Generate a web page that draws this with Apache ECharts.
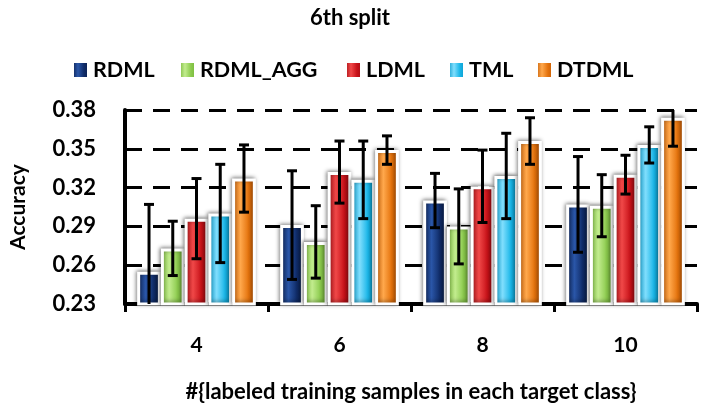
<!DOCTYPE html>
<html>
	<head>
		<meta charset="utf-8">
		<title></title>
		<style>
			body{margin:0;}
			#main{
				width: 704px;
				height: 409px;
			}
		</style>
	</head>
	<body>
		<div id="main"></div>
		<script src="https://cdn.jsdelivr.net/npm/echarts@6/dist/echarts.min.js"></script>
		<script>
			// 数据：横轴类别、各方法的均值与误差（半宽）
			var categories=['4','6','8','10']
			var methods=['RDML','RDML_AGG','LDML','TML','DTDML']
			var rdml=[0.255,0.291,0.310,0.307]
			var rdmlAgg=[0.273,0.278,0.290,0.306]
			var ldml=[0.296,0.332,0.321,0.330]
			var tml=[0.300,0.326,0.329,0.353]
			var dtdml=[0.327,0.349,0.356,0.374]
			var rdmlErr=[0.052,0.042,0.021,0.037]
			var rdmlAggErr=[0.021,0.028,0.029,0.024]
			var ldmlErr=[0.031,0.024,0.028,0.015]
			var tmlErr=[0.038,0.030,0.033,0.014]
			var dtdmlErr=[0.026,0.011,0.018,0.022]
			var yTicks=[0.23,0.26,0.29,0.32,0.35,0.38]

			var values=[rdml,rdmlAgg,ldml,tml,dtdml]
			var errs=[rdmlErr,rdmlAggErr,ldmlErr,tmlErr,dtdmlErr]
			// 颜色：暗、亮、中
			var shades=[
				['#0b1f4d','#2a56a8','#102c68'],
				['#77b63a','#c2ec8e','#8ccb4e'],
				['#a30c12','#f04848','#c81219'],
				['#0a9acb','#80defd','#19b6e8'],
				['#c45c05','#ffa84c','#e4720c']
			]
			function grad(s){
				return new echarts.graphic.LinearGradient(0,0,1,0,[
					{offset:0,color:s[0]},
					{offset:0.35,color:s[1]},
					{offset:0.7,color:s[2]},
					{offset:1,color:s[0]}
				])
			}
			var fontFam='Lato'
			var catGap=0.17

			var series=methods.map(function(name,i){
				return {
					name:name,
					type:'bar',
					barGap:'0%',
					barCategoryGap:(catGap*100)+'%',
					data:values[i],
					itemStyle:{
						color:grad(shades[i]),
						borderColor:'#ffffff',
						borderWidth:3,
						shadowColor:'rgba(0,0,0,0.45)',
						shadowBlur:4,
						shadowOffsetX:-1,
						shadowOffsetY:-1
					},
					z:2
				}
			})

			// 误差棒
			var errData=[]
			values.forEach(function(arr,i){
				arr.forEach(function(v,j){
					errData.push([j,v-errs[i][j],v+errs[i][j],i])
				})
			})
			series.push({
				type:'custom',
				name:'err',
				clip:true,
				z:5,
				data:errData,
				encode:{x:0,y:[1,2]},
				renderItem:function(params,api){
					var c=api.value(0)
					var lo=api.coord([c,api.value(1)])
					var hi=api.coord([c,api.value(2)])
					var cw=api.size([1,0])[0]
					var bw=cw*(1-catGap)/5
					var x=lo[0]+(api.value(3)-2)*bw
					var half=5
					var st={stroke:'#000',lineWidth:3}
					return {
						type:'group',
						children:[
							{type:'line',shape:{x1:x,y1:lo[1],x2:x,y2:hi[1]},style:st},
							{type:'line',shape:{x1:x-half,y1:lo[1],x2:x+half,y2:lo[1]},style:st},
							{type:'line',shape:{x1:x-half,y1:hi[1],x2:x+half,y2:hi[1]},style:st}
						]
					}
				}
			})

			// 图例：每项单独定位
			var legendLeft=[67,174,340,443,531]
			var legends=methods.map(function(name,i){
				return {
					data:[name],
					top:54,
					left:legendLeft[i],
					itemWidth:15,
					itemHeight:16,
					icon:'rect',
					textStyle:{fontFamily:fontFam,fontSize:21.5,fontWeight:'bold',color:'#000'}
				}
			})

			var mychart=echarts.init(document.getElementById("main"))
			var option={
				animation:false,
				title:{
					text:'6th split',
					left:345,
					textAlign:'center',
					top:2,
					textStyle:{fontFamily:fontFam,fontSize:22,fontWeight:'bold',color:'#000'}
				},
				legend:legends,
				grid:{left:116,right:7,top:110,bottom:105},
				xAxis:{
					type:'category',
					data:categories,
					name:'#{labeled training samples in each target class}',
					nameLocation:'middle',
					nameGap:77,
					nameTextStyle:{fontFamily:fontFam,fontSize:22,fontWeight:'bold',color:'#000'},
					axisLine:{lineStyle:{color:'#000',width:4}},
					axisTick:{show:true,length:8,lineStyle:{color:'#000',width:3}},
					axisLabel:{margin:31,fontFamily:fontFam,fontSize:21,fontWeight:'bold',color:'#000'}
				},
				yAxis:{
					type:'value',
					min:yTicks[0],
					max:yTicks[yTicks.length-1],
					interval:0.03,
					name:'Accuracy',
					nameLocation:'middle',
					nameGap:96,
					nameTextStyle:{fontFamily:fontFam,fontSize:21,fontWeight:'bold',color:'#000'},
					axisLine:{show:true,lineStyle:{color:'#000',width:4}},
					axisTick:{show:false},
					axisLabel:{
						margin:29,
						fontFamily:fontFam,fontSize:22,fontWeight:'bold',color:'#000',
						formatter:function(v){return v.toFixed(2)}
					},
					splitLine:{show:true,lineStyle:{color:'#000',width:3,type:[17,11]}}
				},
				series:series
			};
			mychart.setOption(option);
		</script>
	</body>
</html>
